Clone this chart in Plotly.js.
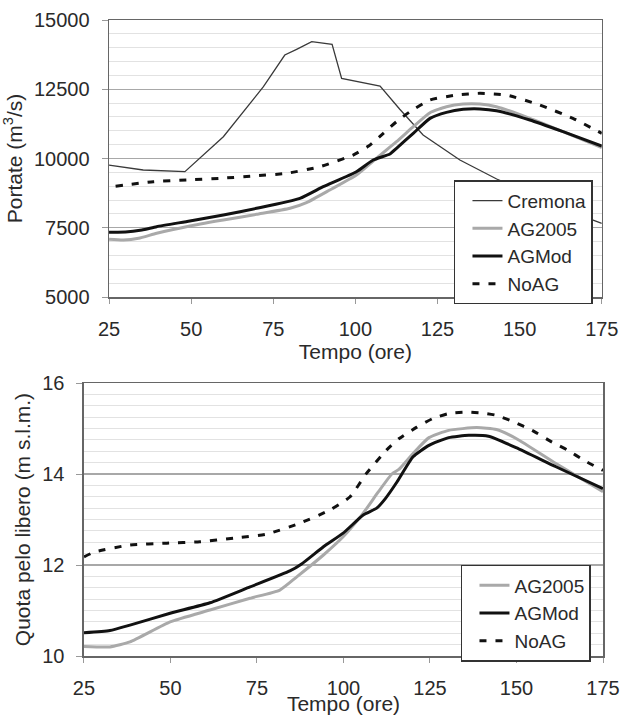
<!DOCTYPE html>
<html>
<head>
<meta charset="utf-8">
<script src="https://cdn.plot.ly/plotly-3.0.1.min.js"></script>
<style>html,body{margin:0;padding:0;background:#fff;}</style>
</head>
<body>
<div id="chart" style="width:623px;height:715px;"></div>
<script>
// ---- Top chart: Portate (m3/s) ----
const cremonaT = [25, 35.4, 48.1, 59.8, 72.0, 78.5, 82.1, 86.7, 92.9, 95.8, 107.5, 113.5, 120.6, 131.8, 143, 155, 165, 172.3, 175];
const cremonaQ = [9765, 9585, 9524, 10787, 12592, 13736, 13942, 14217, 14122, 12895, 12617, 11780, 10848, 9946, 9260, 8650, 8100, 7780, 7660];

const ag2005T = [25, 29.4, 34, 39.5, 49.6, 59.8, 69.9, 80.1, 85.1, 92.2, 100.3, 106.4, 112.5, 117.6, 122.7, 127.7, 132.8, 137.9, 142.9, 153.1, 163.2, 175];
const ag2005Q = [7083, 7058, 7120, 7299, 7563, 7780, 7985, 8202, 8406, 8863, 9404, 10007, 10607, 11148, 11654, 11870, 11968, 11968, 11870, 11450, 10968, 10390];

const agmodT = [25, 30, 35, 39.5, 49.6, 59.8, 69.9, 83.1, 90.2, 100.3, 105.4, 110.5, 112.5, 117.6, 122.7, 127.7, 132.8, 137.9, 142.9, 153.1, 163.2, 175];
const agmodQ = [7340, 7345, 7420, 7540, 7744, 7960, 8202, 8563, 8983, 9524, 9946, 10162, 10368, 10908, 11450, 11667, 11776, 11790, 11726, 11390, 10968, 10450];

const noagT = [27, 38.5, 48.6, 58.8, 68.9, 79.1, 89.2, 99.3, 104, 108.5, 112.5, 116.6, 122.7, 130.8, 137.9, 146, 156.1, 166.2, 175];
const noagQ = [9000, 9163, 9224, 9285, 9368, 9466, 9704, 10126, 10450, 10909, 11330, 11690, 12112, 12292, 12354, 12292, 11931, 11450, 10909];

// ---- Bottom chart: Quota pelo libero (m s.l.m.) ----
const ag2005hT = [25, 32.5, 38.3, 49.9, 61.4, 73, 81.6, 86.5, 94.2, 99.9, 105.7, 110, 114, 116, 120.1, 124.7, 130.4, 138.5, 144.2, 149.9, 161.4, 175];
const ag2005H = [10.21, 10.20, 10.31, 10.75, 11.01, 11.27, 11.45, 11.74, 12.22, 12.62, 13.14, 13.6, 14.0, 14.1, 14.45, 14.80, 14.96, 15.02, 14.98, 14.78, 14.23, 13.61];

const agmodhT = [25, 32.5, 38.3, 49.9, 61.4, 73, 84.5, 88, 94.2, 99.9, 105.7, 109.6, 112.1, 115.5, 120.1, 124.7, 130.4, 136.2, 141.9, 149.9, 161.4, 175];
const agmodH = [10.51, 10.56, 10.68, 10.94, 11.17, 11.52, 11.87, 12.03, 12.40, 12.70, 13.10, 13.25, 13.46, 13.83, 14.38, 14.63, 14.80, 14.85, 14.83, 14.58, 14.16, 13.68];

const noaghT = [25, 28.2, 38.3, 48.9, 58.5, 68.2, 77.8, 87.4, 96.1, 101.9, 106.7, 112.5, 116.1, 121.2, 125.8, 130.4, 135.6, 140.2, 144.2, 149.4, 154.5, 160.3, 164.9, 169.5, 175];
const noagH = [12.18, 12.29, 12.44, 12.48, 12.51, 12.59, 12.68, 12.92, 13.21, 13.50, 14.02, 14.53, 14.78, 15.03, 15.22, 15.33, 15.36, 15.34, 15.29, 15.14, 14.96, 14.70, 14.52, 14.30, 14.08];

const xTicks = [25, 50, 75, 100, 125, 150, 175];

const FONT = '"Liberation Sans", Arial, Helvetica, sans-serif';
const TXT = '#2a2a2a';
const smooth = {shape: 'spline', smoothing: 0.5};

const traces = [
  {x: cremonaT, y: cremonaQ, name: 'Cremona', mode: 'lines', xaxis: 'x', yaxis: 'y', legend: 'legend',
   line: {color: '#3a3a3a', width: 1.3}},
  {x: ag2005T, y: ag2005Q, name: 'AG2005', mode: 'lines', xaxis: 'x', yaxis: 'y', legend: 'legend',
   line: Object.assign({color: '#a9a9a9', width: 3}, smooth)},
  {x: agmodT, y: agmodQ, name: 'AGMod', mode: 'lines', xaxis: 'x', yaxis: 'y', legend: 'legend',
   line: Object.assign({color: '#111111', width: 3}, smooth)},
  {x: noagT, y: noagQ, name: 'NoAG', mode: 'lines', xaxis: 'x', yaxis: 'y', legend: 'legend',
   line: Object.assign({color: '#111111', width: 3, dash: '7px,9px'}, smooth)},

  {x: ag2005hT, y: ag2005H, name: 'AG2005', mode: 'lines', xaxis: 'x2', yaxis: 'y2', legend: 'legend2',
   line: Object.assign({color: '#a9a9a9', width: 3}, smooth)},
  {x: agmodhT, y: agmodH, name: 'AGMod', mode: 'lines', xaxis: 'x2', yaxis: 'y2', legend: 'legend2',
   line: Object.assign({color: '#111111', width: 3}, smooth)},
  {x: noaghT, y: noagH, name: 'NoAG', mode: 'lines', xaxis: 'x2', yaxis: 'y2', legend: 'legend2',
   line: Object.assign({color: '#111111', width: 3, dash: '7px,9px'}, smooth)}
];

function xAxis(domain, anchor) {
  return {
    domain: domain, anchor: anchor, range: [25, 175], tickvals: xTicks, ticktext: xTicks.map(String),
    showgrid: false, zeroline: false,
    ticks: 'outside', ticklen: 5, tickcolor: '#999', tickwidth: 1,
    showline: true, linecolor: '#666', linewidth: 1.5, mirror: true,
    tickfont: {family: FONT, size: 20, color: TXT}, ticklabelstandoff: 8,
    title: {text: 'Tempo (ore)', font: {family: FONT, size: 21, color: TXT}, standoff: 0}
  };
}

function yAxis(domain, anchor, range, dtick, minorDtick, title) {
  return {
    domain: domain, anchor: anchor, range: range, dtick: dtick, tick0: range[0],
    tickformat: 'd', exponentformat: 'none',
    showgrid: true, gridcolor: '#a8a8a8', gridwidth: 1.3, zeroline: false,
    minor: {dtick: minorDtick, showgrid: true, gridcolor: '#e2e2e2', gridwidth: 1, ticks: ''},
    ticks: 'outside', ticklen: 6, tickcolor: '#999', tickwidth: 1,
    showline: true, linecolor: '#666', linewidth: 1.5, mirror: true,
    tickfont: {family: FONT, size: 20, color: TXT}, ticklabelstandoff: 8,
    title: {text: title, font: {family: FONT, size: 21, color: TXT}, standoff: 6}
  };
}

const legendStyle = {
  font: {family: FONT, size: 19, color: TXT},
  bgcolor: '#ffffff', bordercolor: '#333333', borderwidth: 1.5,
  xanchor: 'right', yanchor: 'top', itemwidth: 30, tracegroupgap: 0,
  indentation: 12
};

const layout = {
  width: 623, height: 715,
  margin: {l: 0, r: 0, t: 0, b: 0},
  paper_bgcolor: '#ffffff', plot_bgcolor: '#ffffff',
  font: {family: FONT, color: TXT},
  xaxis: xAxis([0.175, 0.966], 'y'),
  yaxis: yAxis([0.5846, 0.972], 'x', [5000, 15000], 2500, 500, 'Portate (m<sup>3</sup>/s)'),
  xaxis2: xAxis([0.1348, 0.9679], 'y2'),
  yaxis2: yAxis([0.0825, 0.4643], 'x2', [10, 16], 2, 0.25, 'Quota pelo libero (m s.l.m.)'),
  legend: Object.assign({x: 0.9518, y: 0.748}, legendStyle),
  legend2: Object.assign({x: 0.9486, y: 0.2098}, legendStyle),
  showlegend: true
};

Plotly.newPlot('chart', traces, layout, {staticPlot: true, displayModeBar: false});
</script>
</body>
</html>
